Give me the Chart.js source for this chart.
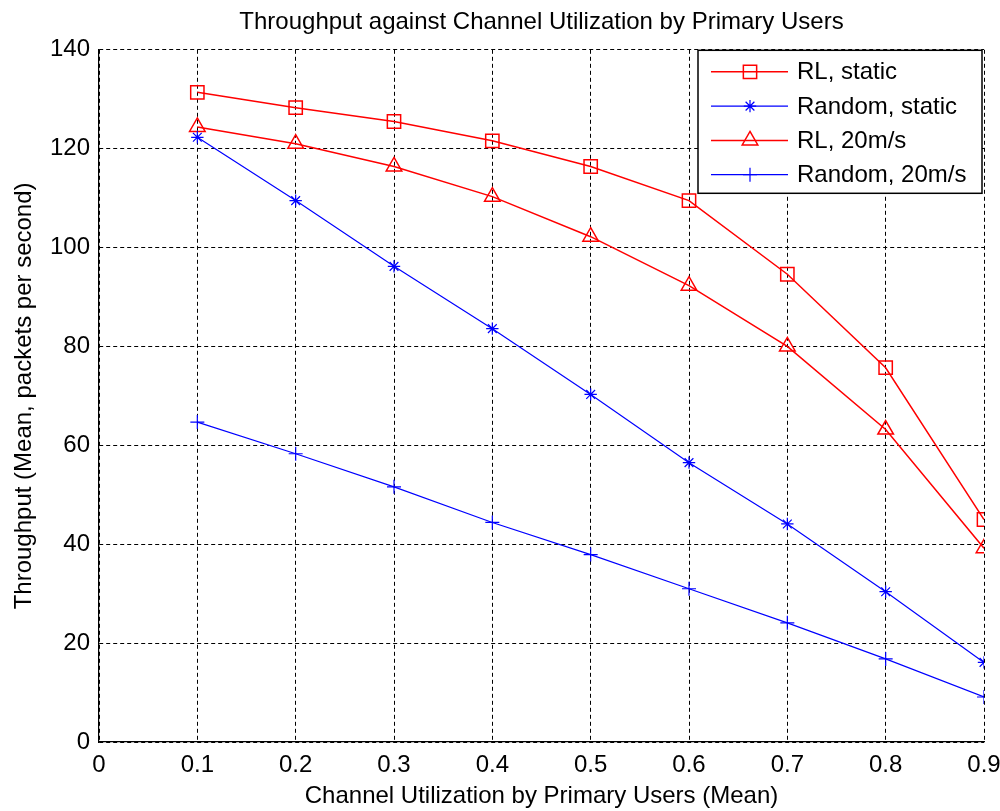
<!DOCTYPE html>
<html>
<head>
<meta charset="utf-8">
<script src="https://cdn.jsdelivr.net/npm/chart.js@4/dist/chart.umd.min.js"></script>
<style>
  html, body { margin: 0; padding: 0; background: #ffffff; }
  #wrap { width: 1000px; height: 811px; }
</style>
</head>
<body>
<div id="wrap"><canvas id="c" width="1000" height="811"></canvas></div>
<script>
// ---- data ----
const xValues = [0.1, 0.2, 0.3, 0.4, 0.5, 0.6, 0.7, 0.8, 0.9];
const rlStatic = [131.4, 128.3, 125.5, 121.6, 116.4, 109.5, 94.6, 75.7, 45.0];
const randomStatic = [122.3, 109.5, 96.2, 83.6, 70.3, 56.5, 44.1, 30.4, 16.1];
const rl20 = [124.4, 121.0, 116.4, 110.3, 102.2, 92.3, 80.0, 63.2, 39.2];
const random20 = [64.7, 58.3, 51.6, 44.4, 37.9, 31.0, 24.1, 16.8, 9.1];
const seriesNames = ['RL, static', 'Random, static', 'RL, 20m/s', 'Random, 20m/s'];
const xTicks = [0, 0.1, 0.2, 0.3, 0.4, 0.5, 0.6, 0.7, 0.8, 0.9];
const xTickLabels = ['0', '0.1', '0.2', '0.3', '0.4', '0.5', '0.6', '0.7', '0.8', '0.9'];
const yTicks = [0, 20, 40, 60, 80, 100, 120, 140];
const yTickLabels = ['0', '20', '40', '60', '80', '100', '120', '140'];
const titleText = 'Throughput against Channel Utilization by Primary Users';
const xTitle = 'Channel Utilization by Primary Users (Mean)';
const yTitle = 'Throughput (Mean, packets per second)';

const FONT = '"Liberation Sans", Arial, Helvetica, sans-serif';
const RED = '#ff0000';
const BLUE = '#0000ff';

function pts(arr) { return xValues.map((x, i) => ({ x: x, y: arr[i] })); }

function mkSet(label, arr, color, style, radius, lw) {
  return {
    label: label,
    data: pts(arr),
    borderColor: color,
    backgroundColor: 'rgba(0,0,0,0)',
    borderWidth: lw,
    pointStyle: style,
    pointRadius: radius,
    pointHoverRadius: radius,
    pointBorderColor: color,
    pointBackgroundColor: 'rgba(0,0,0,0)',
    pointBorderWidth: lw,
    tension: 0,
    fill: false
  };
}

function drawMarker(ctx, style, r, x, y) {
  ctx.beginPath();
  if (style === 'rect') {
    const s = r * Math.SQRT1_2;
    ctx.rect(x - s, y - s, 2 * s, 2 * s);
  } else if (style === 'triangle') {
    let rad = 0;
    ctx.moveTo(x + Math.sin(rad) * r, y - Math.cos(rad) * r);
    rad += 2 * Math.PI / 3;
    ctx.lineTo(x + Math.sin(rad) * r, y - Math.cos(rad) * r);
    rad += 2 * Math.PI / 3;
    ctx.lineTo(x + Math.sin(rad) * r, y - Math.cos(rad) * r);
    ctx.closePath();
  } else if (style === 'cross') {
    ctx.moveTo(x, y - r); ctx.lineTo(x, y + r);
    ctx.moveTo(x - r, y); ctx.lineTo(x + r, y);
  } else if (style === 'star') {
    ctx.moveTo(x, y - r); ctx.lineTo(x, y + r);
    ctx.moveTo(x - r, y); ctx.lineTo(x + r, y);
    const s = r * Math.SQRT1_2;
    ctx.moveTo(x - s, y - s); ctx.lineTo(x + s, y + s);
    ctx.moveTo(x - s, y + s); ctx.lineTo(x + s, y - s);
  }
  ctx.stroke();
}

const boxLegend = {
  id: 'boxLegend',
  afterDraw(chart) {
    const ctx = chart.ctx;
    const a = chart.chartArea;
    const w = 284, h = 143;
    const x0 = a.right - 2 - w;
    const y0 = a.top + 0.5;
    ctx.save();
    ctx.setLineDash([]);
    ctx.fillStyle = '#ffffff';
    ctx.fillRect(x0, y0, w, h);
    ctx.lineWidth = 1.5;
    ctx.strokeStyle = '#000000';
    ctx.strokeRect(x0, y0, w, h);
    chart.data.datasets.forEach((ds, i) => {
      const cy = y0 + 21.5 + i * 34.3;
      ctx.strokeStyle = ds.borderColor;
      ctx.lineWidth = ds.borderWidth;
      ctx.beginPath();
      ctx.moveTo(x0 + 13, cy);
      ctx.lineTo(x0 + 90, cy);
      ctx.stroke();
      drawMarker(ctx, ds.pointStyle, ds.pointRadius, x0 + 52, cy);
      ctx.fillStyle = '#000000';
      ctx.font = '24px ' + FONT;
      ctx.textBaseline = 'middle';
      ctx.textAlign = 'left';
      ctx.fillText(ds.label, x0 + 99, cy + 1);
    });
    ctx.restore();
  }
};

new Chart(document.getElementById('c'), {
  type: 'line',
  data: {
    datasets: [
      mkSet(seriesNames[0], rlStatic, RED, 'rect', 9.4, 1.5),
      mkSet(seriesNames[1], randomStatic, BLUE, 'star', 6.2, 1.2),
      mkSet(seriesNames[2], rl20, RED, 'triangle', 9, 1.5),
      mkSet(seriesNames[3], random20, BLUE, 'cross', 7, 1.2)
    ]
  },
  options: {
    responsive: false,
    animation: false,
    devicePixelRatio: 1,
    layout: { padding: { left: 0, right: 0, top: 0, bottom: 0 } },
    plugins: {
      legend: { display: false },
      tooltip: { enabled: false },
      title: {
        display: true,
        fullSize: false,
        text: titleText,
        color: '#000000',
        font: { family: FONT, size: 24, weight: 'normal' },
        padding: { top: 8, bottom: 13 }
      }
    },
    scales: {
      x: {
        type: 'linear',
        min: 0,
        max: 0.9,
        afterBuildTicks: (s) => { s.ticks = xTicks.map(v => ({ value: v })); },
        afterFit: (s) => { s.height = 69; s.paddingRight = 16; s.paddingLeft = 0; },
        ticks: {
          autoSkip: false,
          maxRotation: 0,
          padding: 9,
          color: '#000000',
          font: { family: FONT, size: 24 },
          callback: (v, i) => xTickLabels[i]
        },
        grid: { color: '#000000', lineWidth: 1, drawTicks: false },
        border: { display: true, color: '#000000', width: 1.2, dash: [4, 3] },
        title: {
          display: true,
          text: xTitle,
          color: '#000000',
          font: { family: FONT, size: 24 },
          padding: { top: 0, bottom: 0 }
        }
      },
      y: {
        type: 'linear',
        min: 0,
        max: 140,
        afterBuildTicks: (s) => { s.ticks = yTicks.map(v => ({ value: v })); },
        afterFit: (s) => { s.width = 99; },
        ticks: {
          autoSkip: false,
          padding: 9,
          color: '#000000',
          font: { family: FONT, size: 24 },
          callback: (v, i) => yTickLabels[i]
        },
        grid: { color: '#000000', lineWidth: 1, drawTicks: false },
        border: { display: true, color: '#000000', width: 1.2, dash: [4, 3] },
        title: {
          display: true,
          text: yTitle,
          color: '#000000',
          font: { family: FONT, size: 24 },
          padding: { top: 10, bottom: 0 }
        }
      }
    }
  },
  plugins: [boxLegend]
});
</script>
</body>
</html>
